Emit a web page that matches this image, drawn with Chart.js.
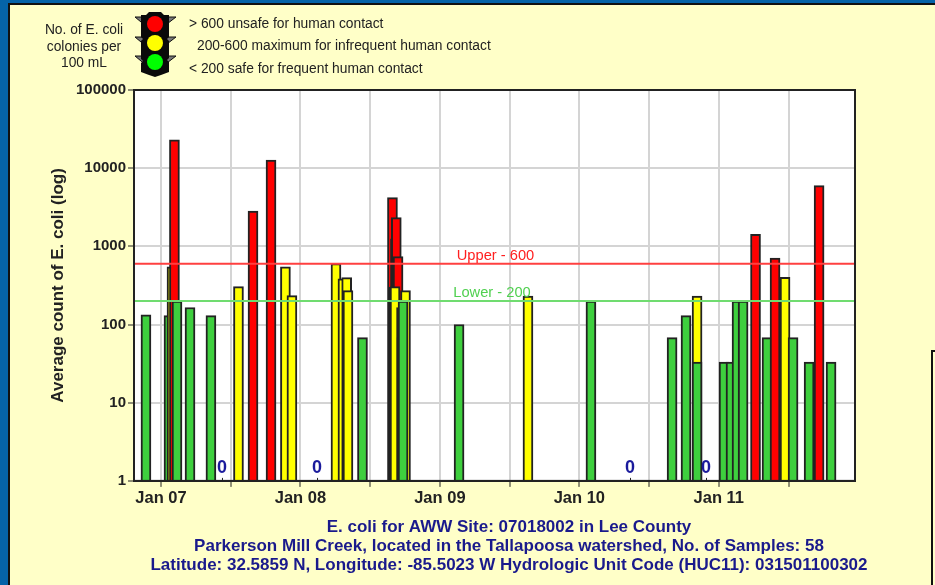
<!DOCTYPE html>
<html><head><meta charset="utf-8">
<style>
html,body{margin:0;padding:0;width:935px;height:585px;overflow:hidden;background:#0563a8;}
#panel{position:absolute;left:8px;top:3px;width:927px;height:582px;box-sizing:border-box;background:#ffffc8;border-left:2px solid #111;border-top:2px solid #111;}
#box{position:absolute;left:931px;top:350px;width:4px;height:235px;box-sizing:border-box;border-left:2px solid #111;border-top:2px solid #111;}
canvas{position:absolute;left:0;top:0;}
.t{position:absolute;font-family:"Liberation Sans",Arial,sans-serif;font-size:13.8px;line-height:16px;color:#222;white-space:nowrap;}
.c{text-align:center;width:110px;left:29px;}
svg{position:absolute;left:134px;top:10px;}
</style></head><body>
<div id="panel"></div><div id="box"></div>
<canvas id="c" width="935" height="585"></canvas>
<div class="t c" style="top:22px">No. of E. coli</div>
<div class="t c" style="top:39px">colonies per</div>
<div class="t c" style="top:55px">100 mL</div>
<div class="t" style="left:189px;top:16px">&gt; 600 unsafe for human contact</div>
<div class="t" style="left:197px;top:38px">200-600 maximum for infrequent human contact</div>
<div class="t" style="left:189px;top:61px">&lt; 200 safe for frequent human contact</div>
<svg width="44" height="70" viewBox="0 0 44 70">
<g fill="#777" stroke="#111" stroke-width="1"><path d="M1 7h12v10z"/><path d="M42 7H29v10z"/><path d="M1 27h12v10z"/><path d="M42 27H29v10z"/><path d="M1 46h12v10z"/><path d="M42 46H29v10z"/></g>
<path d="M15 2h12l3 3h5v22l-2 2 2 2v17l-2 2 2 2v10l-8 3-6 2-6-2-8-3V53l2-2-2-2V31l2-2-2-2V5h5z" fill="#0a0a0a"/>
<circle cx="21" cy="14" r="8" fill="#ff0000"/><circle cx="21" cy="33" r="8" fill="#ffff00"/><circle cx="21" cy="52" r="8" fill="#00ff00"/>
</svg>
<script src="https://cdn.jsdelivr.net/npm/chart.js@4/dist/chart.umd.js"></script>
<script>
const sampleMonths = [-1.29,0.69,0.95,1.16,1.38,2.50,4.30,6.67,7.92,9.47,10.71,11.27,15.06,15.66,15.98,16.09,17.34,
  19.92,20.18,20.01,20.25,20.40,20.14,21.04,20.70,20.74,20.83,25.65,31.58,37.00,43.98,45.18,46.13,46.13,
  48.45,49.05,49.57,50.09,51.16,52.15,52.84,53.70,54.39,55.77,56.63,57.66];
const ecoliCounts = [133,130,546,23000,200,165,130,305,2830,12700,546,234,600,383,398,271,68,
  4200,1245,300,2330,738,305,271,165,68,200,100,232,200,68,130,232,33,
  33,33,200,200,1430,68,710,403,68,33,5970,33];
const zeroSampleMonths = [5.25,13.43,40.36,46.9];
const tickMonths = [0,6,12,18,24,30,36,42,48,54];
const tickLabels = ["Jan 07","","Jan 08","","Jan 09","","Jan 10","","Jan 11",""];
const logTicks = [1,10,100,1000,10000,100000];
const upperLimit = 600, lowerLimit = 200;
const titleLines = ["E. coli for AWW Site: 07018002 in Lee County",
  "Parkerson Mill Creek, located in the Tallapoosa watershed, No. of Samples: 58",
  "Latitude: 32.5859 N, Longitude: -85.5023 W Hydrologic Unit Code (HUC11): 031501100302"];
const xMin = -2.32, xMax = 59.72;
const fill = v => v > upperLimit ? '#ff0000' : v > lowerLimit ? '#ffff00' : '#3ecf3e';

const frame = {
  id:'frame',
  afterLayout(c){ c.titleBlock.left = 83; c.titleBlock.right = 935; },
  beforeDraw(c){ const a=c.chartArea; c.ctx.fillStyle='#fff'; c.ctx.fillRect(a.left,a.top,a.width,a.height); },
  afterDraw(c){
    const {ctx,chartArea:a,scales:{x,y}} = c;
    ctx.save();
    ctx.strokeStyle='#222'; ctx.lineWidth=2;
    ctx.strokeRect(a.left,a.top,a.width,a.height);
    ctx.textAlign='center'; ctx.textBaseline='middle';
    ctx.fillStyle='#ff2020'; ctx.font='14.7px "Liberation Sans"';
    ctx.fillText('Upper - 600',495.5,y.getPixelForValue(upperLimit)-8);
    ctx.fillStyle='#50d050';
    ctx.fillText('Lower - 200',492,y.getPixelForValue(lowerLimit)-8);
    zeroSampleMonths.forEach(m=>{
      const px=x.getPixelForValue(m);
      ctx.fillStyle='#1a1a9c'; ctx.font='bold 18px "Liberation Sans"';
      ctx.fillText('0',px,a.bottom-13);
      ctx.strokeStyle='#222'; ctx.lineWidth=1;
      ctx.beginPath(); ctx.moveTo(px+.5,a.bottom-3); ctx.lineTo(px+.5,a.bottom); ctx.stroke();
    });
    ctx.restore();
  }
};

new Chart(document.getElementById('c'),{
  type:'bar',
  data:{datasets:[
    {type:'line',data:[{x:xMin,y:upperLimit},{x:xMax,y:upperLimit}],borderColor:'#ff4040',borderWidth:2,pointRadius:0,order:0},
    {type:'line',data:[{x:xMin,y:lowerLimit},{x:xMax,y:lowerLimit}],borderColor:'#70dc70',borderWidth:2,pointRadius:0,order:0},
    {data:sampleMonths.map((m,i)=>({x:m,y:ecoliCounts[i]})),backgroundColor:ecoliCounts.map(fill),
     borderColor:'#222',borderWidth:2,barThickness:10,order:1}
  ]},
  options:{
    responsive:false,animation:false,
    layout:{padding:{left:48,top:90,right:80,bottom:0}},
    plugins:{legend:{display:false},tooltip:{enabled:false},
      title:{display:true,position:'bottom',text:titleLines,color:'#1a1a8c',
        font:{family:'"Liberation Sans"',size:17,weight:'bold',lineHeight:1.12},padding:{top:0,bottom:10}}},
    scales:{
      x:{type:'linear',min:xMin,max:xMax,offset:false,
        afterBuildTicks(s){s.ticks=tickMonths.map(v=>({value:v}));},
        afterFit(s){s.height=37;},
        grid:{offset:false,color:'#d4d4d4',lineWidth:2,tickColor:'#222',tickLength:6,tickWidth:1},
        border:{color:'#222',width:2},
        ticks:{autoSkip:false,maxRotation:0,color:'#222',padding:2,
          font:{family:'"Liberation Sans"',size:16.5,weight:'bold'},
          callback(v){const i=tickMonths.indexOf(v);return i<0?'':tickLabels[i];}}},
      y:{type:'logarithmic',min:1,max:100000,
        afterBuildTicks(s){s.ticks=logTicks.map(v=>({value:v}));},
        afterFit(s){s.width=86;},
        grid:{color:'#d4d4d4',lineWidth:2,tickColor:'#222',tickLength:6,tickWidth:1},
        border:{color:'#222',width:2},
        title:{display:true,text:'Average count of E. coli (log)',color:'#222',padding:0,
          font:{family:'"Liberation Sans"',size:17,weight:'bold'}},
        ticks:{color:'#222',padding:2,font:{family:'"Liberation Sans"',size:15,weight:'bold'},
          callback(v){return String(v);}}}
    }
  },
  plugins:[frame]
});
</script>
</body></html>
